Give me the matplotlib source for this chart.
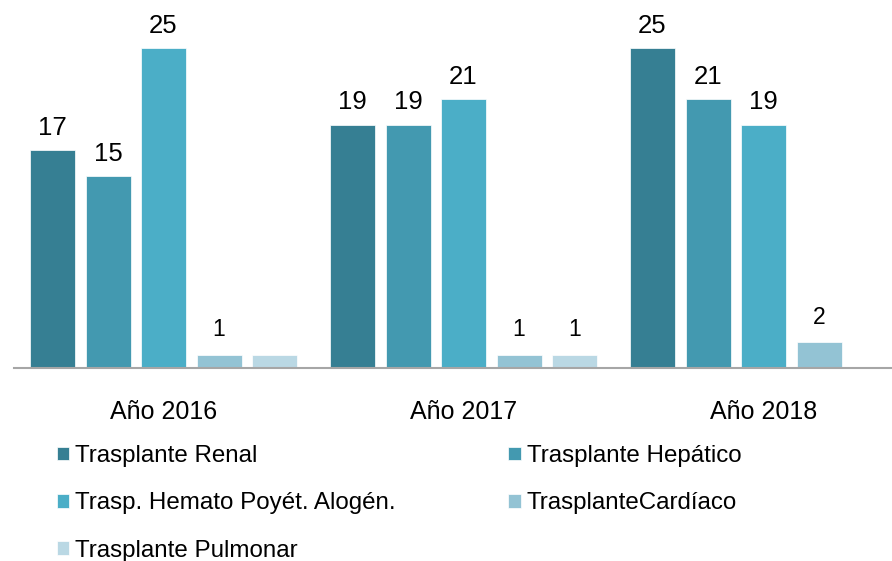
# Trasplantes por año - barras agrupadas
import numpy as np
import matplotlib.pyplot as plt

plt.rcParams['font.family'] = ['Liberation Sans', 'DejaVu Sans']

# Datos
anios = ["Año 2016", "Año 2017", "Año 2018"]
series = [
    "Trasplante Renal",
    "Trasplante Hepático",
    "Trasp. Hemato Poyét. Alogén.",
    "TrasplanteCardíaco",
    "Trasplante Pulmonar",
]
renal = [17, 19, 25]
hepatico = [15, 19, 21]
hemato = [25, 21, 19]
cardiaco = [1, 1, 2]
pulmonar = [1, 1, 0]

# Etiquetas de valor visibles (la de pulmonar 2016 no aparece)
etiquetas = [
    ["17", "19", "25"],
    ["15", "19", "21"],
    ["25", "21", "19"],
    ["1", "1", "2"],
    ["", "1", ""],
]

colores = ["#367F93", "#4399B0", "#4BAEC7", "#93C3D4", "#BAD8E4"]

valores = [renal, hepatico, hemato, cardiaco, pulmonar]

# Figura
fig = plt.figure(figsize=(8.92, 5.61), dpi=100)
ax = fig.add_axes([13.5 / 892, 1 - 368 / 561, 900 / 892, 368 / 561])

x = np.arange(len(anios))
ancho = 0.15
paso = 0.185

handles = []
for i, (vals, col) in enumerate(zip(valores, colores)):
    pos = x + (i - 2) * paso
    barras = ax.bar(pos, vals, width=ancho, color=col, edgecolor="white",
                    linewidth=0.5, label=series[i])
    handles.append(barras)
    for b, txt in zip(barras, etiquetas[i]):
        if txt == "":
            continue
        pequeno = txt in ("1", "2")
        size = 16.5 if pequeno else 18.5
        off = 10 if pequeno else 7.5
        ax.annotate(txt, (b.get_x() + b.get_width() / 2, b.get_height()),
                    xytext=(0, off), textcoords="offset points",
                    ha="center", va="bottom", fontsize=size, color="black")

ax.set_xlim(-0.5, 2.5)
ax.set_ylim(0, 368 / 12.8)
ax.set_xticks(x)
ax.set_xticklabels(anios, fontsize=18)
ax.tick_params(axis="x", length=0, pad=23)
ax.set_yticks([])
for lado in ["top", "right", "left"]:
    ax.spines[lado].set_visible(False)
ax.spines["bottom"].set_color("#A6A6A6")
ax.spines["bottom"].set_linewidth(1.5)

# Leyenda en orden por filas
orden = [0, 2, 4, 1, 3]
fig.legend([handles[k] for k in orden], [series[k] for k in orden],
           loc="upper left", bbox_to_anchor=(57 / 892, 1 - 445 / 561),
           ncol=2, frameon=False, fontsize=17.4, borderpad=0, borderaxespad=0,
           handlelength=0.5, handleheight=0.5, handletextpad=0.25,
           columnspacing=4.67, labelspacing=1.05)

plt.savefig("out.png", dpi=100)
